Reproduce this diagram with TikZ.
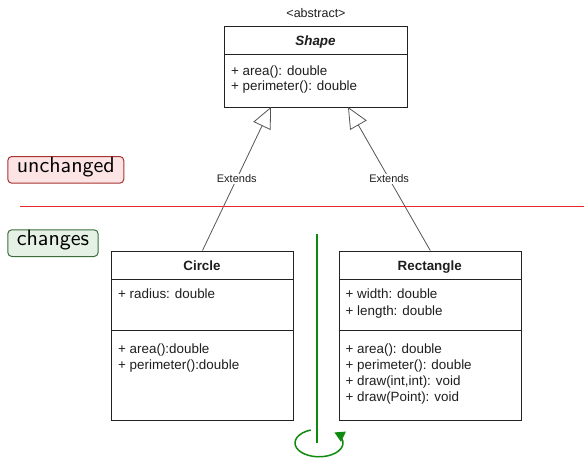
\documentclass[tikz,border=0pt]{standalone}
\usepackage{fontspec}
\setmainfont{Liberation Sans}
\newfontfamily\tagfont{lmsans10-regular.otf}
\usetikzlibrary{arrows.meta}
\definecolor{boxc}{HTML}{222222}
\definecolor{txtc}{HTML}{1E1E1E}
\definecolor{edgec}{HTML}{555555}
\definecolor{pinkfill}{HTML}{FCE4E4}
\definecolor{pinkdraw}{HTML}{A83434}
\definecolor{greenfill}{HTML}{E6F1E6}
\definecolor{greendraw}{HTML}{3C6E3C}
\definecolor{redline}{HTML}{E8282A}
\definecolor{greenline}{HTML}{0E8A0E}
\begin{document}
\begin{tikzpicture}[x=1pt,y=-1pt,
  umlbox/.style={draw=boxc, line width=1pt, fill=white, anchor=north west, inner sep=0pt},
  divider/.style={draw=boxc, line width=1pt},
  txt/.style={anchor=base west, inner sep=0pt, text=txtc, font=\fontsize{13.4}{16}\selectfont},
  title/.style={anchor=base, inner sep=0pt, text=txtc, font=\fontsize{13.4}{16}\selectfont\bfseries},
  ext/.style={draw=edgec, line width=0.8pt, -{Triangle[open, length=21pt, width=19pt]}},
  lbl/.style={fill=white, inner sep=1pt, text=txtc, font=\fontsize{11}{13}\selectfont},
  tagbox/.style={anchor=north west, rounded corners=4pt, line width=1pt, minimum height=26.7pt,
    inner xsep=9pt, inner ysep=0pt, text height=0.7em, text depth=0.2em, font=\tagfont\fontsize{22}{26}\selectfont},
  gline/.style={draw=greenline, line width=1.5pt}
]
\useasboundingbox (0,0) rectangle (584,458);

% Shape
\node[inner sep=0pt, anchor=base, text=txtc, font=\fontsize{12.5}{15}\selectfont] (abs) at (316,17.5) {\textless abstract\textgreater};
\node[umlbox, minimum width=183pt, minimum height=81.5pt] (shape) at (224,25.5) {};
\draw[divider] (224,54.5) -- (407,54.5);
\node[title, font=\fontsize{13.4}{16}\selectfont\bfseries\itshape] (shapet) at (315.5,45.5) {Shape};
\node[txt] (sa1) at (231,75) {+ area(): double};
\node[txt] (sa2) at (231,90.5) {+ perimeter(): double};

% Circle
\node[umlbox, minimum width=182pt, minimum height=169.5pt] (circle) at (111,250.5) {};
\draw[divider] (111,279.3) -- (293,279.3);
\draw[divider] (111,330) -- (293,330);
\node[title] (circlet) at (202,270.5) {Circle};
\node[txt] (c1) at (118,298.5) {+ radius: double};
\node[txt] (c2) at (118,353.5) {+ area():double};
\node[txt] (c3) at (118,369.5) {+ perimeter():double};

% Rectangle
\node[umlbox, minimum width=182.5pt, minimum height=169.5pt] (rect) at (338.5,250.5) {};
\draw[divider] (338.5,279.3) -- (521,279.3);
\draw[divider] (338.5,330) -- (521,330);
\node[title] (rectt) at (429.75,270.5) {Rectangle};
\node[txt] (r1) at (345.5,298.5) {+ width: double};
\node[txt] (r2) at (345.5,315) {+ length: double};
\node[txt] (r3) at (345.5,353.5) {+ area(): double};
\node[txt] (r4) at (345.5,369.5) {+ perimeter(): double};
\node[txt] (r5) at (345.5,385.5) {+ draw(int,int): void};
\node[txt] (r6) at (345.5,401.5) {+ draw(Point): void};

% Extends edges
\coordinate (tipL) at (271,107);
\coordinate (tipR) at (348,107);
\draw[ext] (circle.north) -- (tipL) node[pos=0.5, lbl] {Extends};
\draw[ext] (rect.north) -- (tipR) node[pos=0.5, lbl] {Extends};

% red separator
\coordinate (rl) at (20,206.7);
\coordinate (rr) at (584,206.7);
\draw[draw=redline, line width=1.3pt] (rl) -- (rr);

% tags
\node[tagbox, fill=pinkfill, draw=pinkdraw] (unch) at (7.3,156) {unchanged};
\node[tagbox, fill=greenfill, draw=greendraw] (chg) at (7.3,229.3) {changes};

% green axis and rotation
\coordinate (gtop) at (317,234);
\coordinate (gbot) at (317,443);
\draw[gline] (gtop) -- (gbot);
\coordinate (gstart) at (310.8,430);
\draw[gline, -{Triangle[length=10pt, width=11pt]}] (gstart) arc[start angle=-110, end angle=-410, x radius=24, y radius=13.8];
\end{tikzpicture}
\end{document}
